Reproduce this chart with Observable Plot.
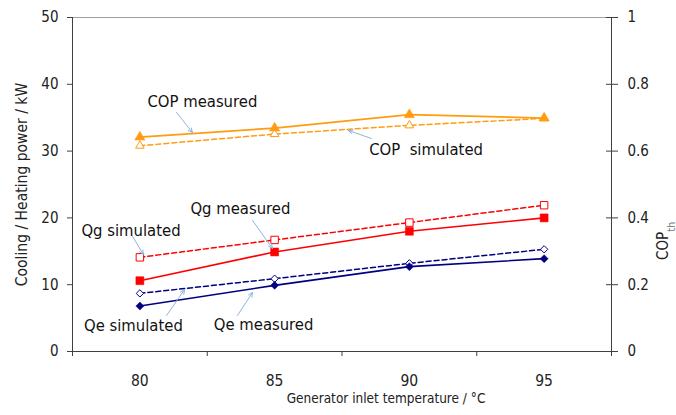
<!DOCTYPE html>
<html>
<head>
<meta charset="utf-8">
<script src="https://cdn.jsdelivr.net/npm/d3@7"></script>
<script src="https://cdn.jsdelivr.net/npm/@observablehq/plot@0.6"></script>
<style>
  html, body { margin: 0; padding: 0; background: #fff; }
  #chart svg { display: block; }
</style>
</head>
<body>
<div id="chart"></div>
<script>
// Generator inlet temperature (°C)
const temps = [80, 85, 90, 95];

// Thermal COP (right axis, 0–1)
const copMeasured  = [0.642, 0.669, 0.709, 0.699];
const copSimulated = [0.616, 0.651, 0.677, 0.698];

// Generator heat input Qg and evaporator cooling power Qe (kW, left axis)
const qgMeasured  = [10.6, 14.9, 18.0, 20.0];
const qgSimulated = [14.1, 16.7, 19.3, 21.9];
const qeMeasured  = [6.8, 9.9, 12.7, 13.9];
const qeSimulated = [8.7, 10.9, 13.2, 15.3];

// Axis ticks
const powerTicks = [0, 10, 20, 30, 40, 50];
const copTicks = [0, 0.2, 0.4, 0.6, 0.8, 1];
const tempBounds = [77.5, 82.5, 87.5, 92.5, 97.5];

// Annotation labels and their leader arrows (data units: °C, kW)
const labelText = ["COP measured", "COP\u00a0 simulated", "Qg measured", "Qg simulated", "Qe simulated", "Qe measured"];
const labelX = [82.32, 90.62, 83.73, 79.67, 79.76, 84.59];
const labelY = [37.4, 30.24, 21.4, 18.11, 3.89, 4.04];
const arrowX1 = [81.36, 88.59, 84.18, 79.73, 80.99, 83.62];
const arrowY1 = [35.78, 31.89, 19.61, 17.22, 5.39, 5.39];
const arrowX2 = [81.95, 87.74, 84.92, 80.13, 81.66, 84.18];
const arrowY2 = [32.78, 33.08, 15.42, 14.52, 9.28, 8.83];

// COP is drawn on the power scale: 1.0 COP ↔ 50 kW
const copToKw = 50;

// Simulated series first so the measured markers sit on top where they coincide
const series = [
  {values: copSimulated.map(v => v * copToKw), color: "#ff9c12", dash: "5,3", symbol: "triangle", filled: false, r: 3.2, width: 1.5},
  {values: qgSimulated, color: "#ff0000", dash: "5,3", symbol: "square",   filled: false, r: 4.2, width: 1.5},
  {values: qeSimulated, color: "#000080", dash: "5,3", symbol: "diamond2", filled: false, r: 3.3, width: 1.5},
  {values: copMeasured.map(v => v * copToKw),  color: "#ff9c12", dash: null,  symbol: "triangle", filled: true,  r: 3.8, width: 1.8},
  {values: qgMeasured,  color: "#ff0000", dash: null,  symbol: "square",   filled: true,  r: 4.5, width: 1.6},
  {values: qeMeasured,  color: "#000080", dash: null,  symbol: "diamond2", filled: true,  r: 3.6, width: 1.6}
];

const marks = [];
// Plot border: grey top edge, dark axis lines
marks.push(Plot.ruleY([50], {stroke: "#a0a0a0", strokeWidth: 1}));
marks.push(Plot.ruleY([0], {stroke: "#404040", strokeWidth: 1}));
marks.push(Plot.ruleX([tempBounds[0]], {stroke: "#404040", strokeWidth: 1}));
marks.push(Plot.ruleX([tempBounds[tempBounds.length - 1]], {stroke: "#404040", strokeWidth: 1}));

for (const s of series) {
  const rows = temps.map((t, i) => ({t, v: s.values[i]}));
  marks.push(Plot.line(rows, {x: "t", y: "v", stroke: s.color, strokeWidth: s.width, strokeDasharray: s.dash}));
  marks.push(Plot.dot(rows, {
    x: "t", y: "v", symbol: () => s.symbol, r: s.r,
    fill: s.filled ? s.color : "white",
    stroke: s.color, strokeWidth: s.filled ? 0.5 : 1
  }));
}

const ann = labelText.map((text, i) => ({
  text, x: labelX[i], y: labelY[i],
  x1: arrowX1[i], y1: arrowY1[i], x2: arrowX2[i], y2: arrowY2[i]
}));
marks.push(Plot.arrow(ann, {x1: "x1", y1: "y1", x2: "x2", y2: "y2", stroke: "#8db4e2", strokeWidth: 1, headLength: 7, headAngle: 50}));
marks.push(Plot.text(ann, {x: "x", y: "y", text: "text", fill: "#111", fontSize: 16.5}));

// Axes
marks.push(Plot.axisY({anchor: "left", ticks: powerTicks, tickSize: 5, tickPadding: 9, label: null, fontSize: 15, color: "#222", stroke: "#404040"}));
marks.push(Plot.axisY({anchor: "right", ticks: copTicks.map(c => c * copToKw), tickFormat: d => d / copToKw, tickSize: 6, tickPadding: 10, label: null, fontSize: 15, color: "#222", stroke: "#404040"}));
marks.push(Plot.axisY({anchor: "right", ticks: copTicks.map(c => c * copToKw), tickFormat: () => "", tickSize: -6, label: null, stroke: "#404040"}));
marks.push(Plot.axisX({ticks: tempBounds, tickFormat: () => "", tickSize: 5, label: null, stroke: "#404040"}));
marks.push(Plot.axisX({ticks: temps, tickSize: 0, tickPadding: 23, label: null, fontSize: 15.5, color: "#222"}));

// Axis titles
marks.push(Plot.text(["Cooling / Heating power / kW"], {frameAnchor: "left", textAnchor: "middle", dx: -50, rotate: -90, fontSize: 15.5, fill: "#222", text: d => d}));
marks.push(Plot.text(["Generator inlet temperature / °C"], {frameAnchor: "bottom", textAnchor: "middle", dx: 44, dy: 51, fontSize: 13.5, fill: "#222", text: d => d}));

const chart = Plot.plot({
  width: 676,
  height: 415,
  marginLeft: 72,
  marginRight: 65,
  marginTop: 17,
  marginBottom: 64,
  style: {fontFamily: "'DejaVu Sans Condensed', 'DejaVu Sans', sans-serif", fontSize: "15px", background: "white"},
  x: {type: "linear", domain: [tempBounds[0], tempBounds[tempBounds.length - 1]]},
  y: {domain: [0, 50]},
  marks
});

// Right-hand axis title with subscript: COP_th
const svg = d3.select(chart);
const yScale = chart.scale("y");
const title = svg.append("text")
  .attr("transform", `translate(668,${yScale.apply(16.5)}) rotate(-90)`)
  .attr("text-anchor", "middle")
  .attr("font-size", 15)
  .attr("fill", "#222");
title.append("tspan").text("COP");
title.append("tspan").attr("baseline-shift", "sub").attr("font-size", 11).attr("fill", "#777").text("th");

document.getElementById("chart").appendChild(chart);
</script>
</body>
</html>
